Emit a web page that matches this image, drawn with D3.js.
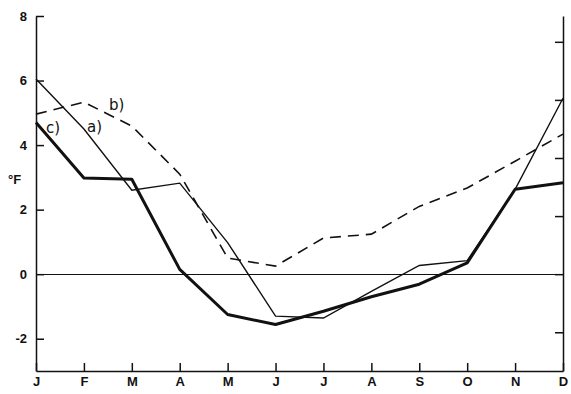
<!DOCTYPE html>
<html>
<head>
<meta charset="utf-8">
<script src="https://cdnjs.cloudflare.com/ajax/libs/d3/7.8.5/d3.min.js"></script>
<style>
    body { margin: 0; background: #fff; }
    svg { display: block; }
    .axis text { font-family: "Liberation Sans", Arial, sans-serif; font-weight: bold; font-size: 13px; fill: #111; }
    .axis path, .axis line { stroke: #111; stroke-width: 1.5; }
    .curveLabel { font-family: "DejaVu Sans", sans-serif; font-size: 15px; fill: #111; }
</style>
</head>
<body>
<div id="chart"></div>
<script>
    "use strict";

    // month initials along the bottom
    var months = ['J', 'F', 'M', 'A', 'M', 'J', 'J', 'A', 'S', 'O', 'N', 'D'];

    // anomalies in °F, one value per month
    var seriesA = [6.05, 4.5, 2.6, 2.82, 0.98, -1.3, -1.36, -0.53, 0.27, 0.42, 2.63, 5.45];
    var seriesB = [4.96, 5.33, 4.59, 3.1, 0.5, 0.25, 1.12, 1.24, 2.1, 2.67, 3.5, 4.34];
    var seriesC = [4.7, 2.98, 2.94, 0.15, -1.25, -1.56, -1.15, -0.7, -0.31, 0.35, 2.63, 2.83];

    var fTicks = [-2, 0, 2, 4, 6, 8];
    var cTicks = [-1, 0, 1, 2, 3, 4];   // right axis, unlabelled, in °C

    (function () {
        var width = 571;
        var height = 394;
        var plotLeft = 36, plotRight = 563, plotTop = 16, plotBottom = 371;

        var svg = d3.select('#chart').append('svg')
            .attr('width', width)
            .attr('height', height);

        var x = d3.scaleLinear().domain([0, 11]).range([plotLeft, plotRight]);
        var y = d3.scaleLinear().domain([-3, 8]).range([plotBottom, plotTop]);
        var yC = d3.scaleLinear().domain([-3 / 1.8, 8 / 1.8]).range([plotBottom, plotTop]);

        // zero line
        svg.append('line')
            .attr('x1', plotLeft).attr('x2', plotRight)
            .attr('y1', Math.round(y(0)) + 0.5).attr('y2', Math.round(y(0)) + 0.5)
            .attr('stroke', '#111')
            .attr('stroke-width', 1.1);

        var yAxis = d3.axisLeft(y)
            .tickValues(fTicks)
            .tickSizeInner(-8)
            .tickSizeOuter(0)
            .tickPadding(9)
            .tickFormat(function (d) { return String(d); });

        svg.append('g')
            .attr('class', 'axis')
            .attr('transform', 'translate(' + plotLeft + ',0)')
            .call(yAxis);

        var yAxisRight = d3.axisRight(yC)
            .tickValues(cTicks)
            .tickSizeInner(-8)
            .tickSizeOuter(0)
            .tickFormat('');

        svg.append('g')
            .attr('class', 'axis')
            .attr('transform', 'translate(' + plotRight + ',0)')
            .call(yAxisRight);

        var xAxis = d3.axisBottom(x)
            .tickValues(d3.range(months.length))
            .tickSizeInner(-8)
            .tickSizeOuter(0)
            .tickPadding(6)
            .tickFormat(function (d) { return months[d]; });

        svg.append('g')
            .attr('class', 'axis')
            .attr('transform', 'translate(0,' + plotBottom + ')')
            .call(xAxis);

        // unit label
        svg.append('text')
            .attr('x', 8)
            .attr('y', 184)
            .style('font-family', '"Liberation Sans", Arial, sans-serif')
            .style('font-weight', 'bold')
            .style('font-size', '13px')
            .attr('fill', '#111')
            .text('°F');

        var line = d3.line()
            .x(function (d, i) { return x(i); })
            .y(function (d) { return y(d); });

        svg.append('path')
            .datum(seriesB)
            .attr('d', line)
            .attr('fill', 'none')
            .attr('stroke', '#111')
            .attr('stroke-width', 1.6)
            .attr('stroke-dasharray', '11,7');

        svg.append('path')
            .datum(seriesA)
            .attr('d', line)
            .attr('fill', 'none')
            .attr('stroke', '#111')
            .attr('stroke-width', 1.4);

        svg.append('path')
            .datum(seriesC)
            .attr('d', line)
            .attr('fill', 'none')
            .attr('stroke', '#111')
            .attr('stroke-width', 3)
            .attr('stroke-linejoin', 'round');

        // curve labels
        var labels = [
            { text: 'a)', px: 87, py: 132 },
            { text: 'b)', px: 109, py: 110 },
            { text: 'c)', px: 46, py: 133 }
        ];
        svg.selectAll('.curveLabel')
            .data(labels)
            .enter()
            .append('text')
            .attr('class', 'curveLabel')
            .attr('x', function (d) { return d.px; })
            .attr('y', function (d) { return d.py; })
            .text(function (d) { return d.text; });
    })();
</script>
</body>
</html>
